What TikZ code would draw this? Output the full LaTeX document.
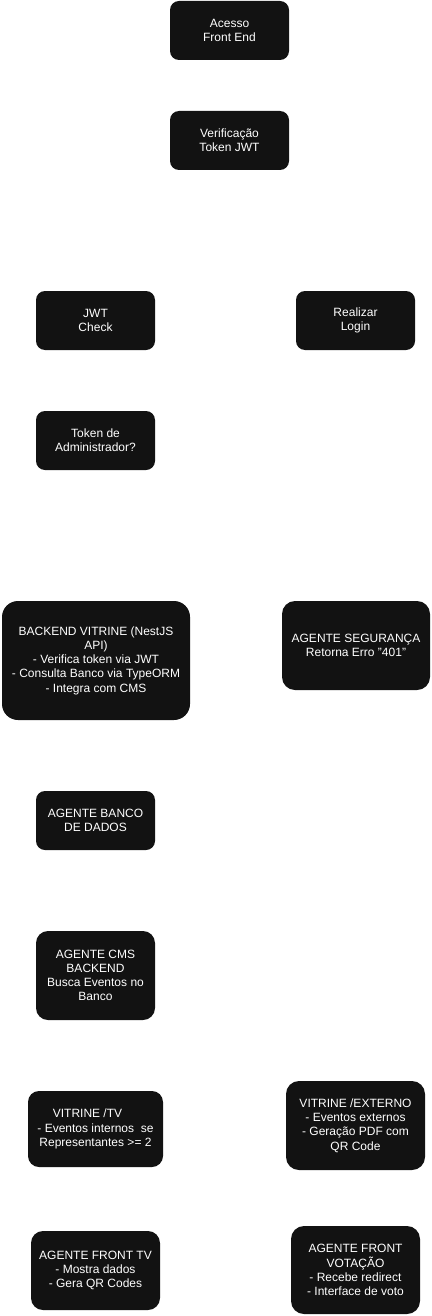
\documentclass[tikz,border=0pt]{standalone}
\usepackage{fontspec}
\setmainfont{Liberation Sans}
\definecolor{boxfill}{HTML}{121212}
\tikzset{
  box/.style={fill=boxfill, draw=none, text=white, align=center, inner sep=0pt,
    font=\fontsize{12}{14.2}\selectfont},
}
\newcommand{\mybox}[7]{% name, x1, y1, x2, y2, radius, text
  \node[box, rounded corners=#6, minimum width=#4pt-#2pt, minimum height=#5pt-#3pt]
    (#1) at ({(#2+#4)/2}, {(#3+#5)/2}) {#7};
}
\begin{document}
\begin{tikzpicture}[x=1pt, y=-1pt]
\useasboundingbox (0,0) rectangle (431,1316);
\mybox{acesso}{170}{1}{289}{60}{9pt}{Acesso\\Front End}
\mybox{verif}{170}{111}{289}{170}{9pt}{Verificação\\Token JWT}
\mybox{jwt}{36}{291}{155}{350}{9pt}{JWT\\Check}
\mybox{login}{296}{291}{415}{350}{9pt}{Realizar\\Login}
\mybox{admin}{36}{411}{155}{470}{9pt}{Token de\\Administrador?}
\mybox{backend}{2}{601}{190}{720}{16pt}{BACKEND VITRINE (NestJS\\API)\\- Verifica token via JWT\\- Consulta Banco via TypeORM\\- Integra com CMS}
\mybox{seg}{282}{601}{430}{690}{13pt}{AGENTE SEGURANÇA\\Retorna Erro \char"22 401\char"22}
\mybox{banco}{36}{791}{155}{850}{9pt}{AGENTE BANCO\\DE DADOS}
\mybox{cms}{36}{931}{155}{1020}{12pt}{AGENTE CMS\\BACKEND\\Busca Eventos no\\Banco}
\mybox{tv}{28}{1091}{163}{1167}{11pt}{VITRINE /TV\kern16pt\\- Eventos internos\ \ se\\Representantes >= 2}
\mybox{externo}{286}{1081}{425}{1170}{13pt}{VITRINE /EXTERNO\\- Eventos externos\\- Geração PDF com\\QR Code}
\mybox{fronttv}{31}{1231}{160}{1310}{12pt}{AGENTE FRONT TV\\- Mostra dados\\- Gera QR Codes}
\mybox{frontvot}{291}{1226}{420}{1314}{13pt}{AGENTE FRONT\\VOTAÇÃO\\- Recebe redirect\\- Interface de voto}
\end{tikzpicture}
\end{document}
